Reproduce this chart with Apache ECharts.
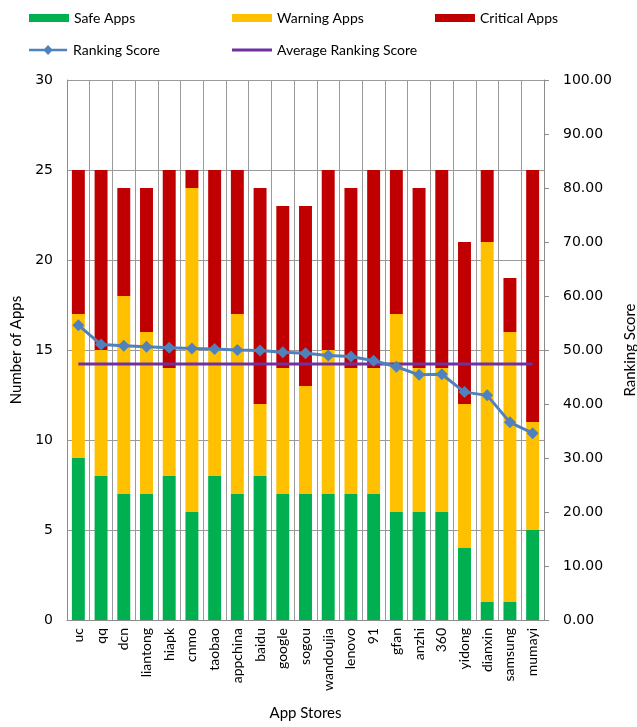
<!DOCTYPE html>
<html>
<head>
<meta charset="utf-8">
<script src="https://cdn.jsdelivr.net/npm/echarts@6/dist/echarts.min.js"></script>
<style>
html,body{margin:0;padding:0;background:#fff;}
#chart{width:637px;height:727px;}
</style>
</head>
<body>
<div id="chart"></div>
<script>
const categories = ['uc','qq','dcn','liantong','hiapk','cnmo','taobao','appchina','baidu','google','sogou','wandoujia','lenovo','91','gfan','anzhi','360','yidong','dianxin','samsung','mumayi'];
const safeApps = [9,8,7,7,8,6,8,7,8,7,7,7,7,7,6,6,6,4,1,1,5];
const warningApps = [8,7,11,9,6,18,7,10,4,7,6,8,7,7,11,8,8,8,20,15,6];
const criticalApps = [8,10,6,8,11,1,10,8,12,9,10,10,10,11,8,10,11,9,4,3,14];
const rankingScore = [54.6,51.0,50.8,50.6,50.4,50.3,50.2,50.0,49.9,49.6,49.4,49.0,48.8,48.0,46.9,45.4,45.5,42.2,41.6,36.6,34.6];
const averageScore = 47.4;
const averageLine = categories.map(() => averageScore);

const FONT = 'Lato';
const AXFONT = 'DejaVu Sans';
const chart = echarts.init(document.getElementById('chart'));
const legendText = {fontFamily: FONT, fontSize: 14, color: '#000'};
chart.setOption({
  animation: false,
  backgroundColor: '#fff',
  legend: [
    {data: ['Safe Apps'], left: 24, top: 6, itemWidth: 40, itemHeight: 8, itemGap: 4, textStyle: legendText, icon: 'rect'},
    {data: ['Warning Apps'], left: 227, top: 6, itemWidth: 40, itemHeight: 8, textStyle: legendText, icon: 'rect'},
    {data: ['Critical Apps'], left: 430, top: 6, itemWidth: 40, itemHeight: 8, textStyle: legendText, icon: 'rect'},
    {data: ['Ranking Score'], left: 24, top: 38, itemWidth: 40, itemHeight: 10, textStyle: legendText,
     icon: 'path://M0,4 L40,4 L40,6.5 L0,6.5 Z M20,0 L25,5.25 L20,10.5 L15,5.25 Z'},
    {data: ['Average Ranking Score'], left: 227, top: 38, itemWidth: 40, itemHeight: 3, textStyle: legendText, icon: 'rect'}
  ],
  grid: {left: 67, right: 93, top: 80, bottom: 107, containLabel: false, outerBoundsMode: 'none'},
  xAxis: {
    type: 'category',
    data: categories,
    boundaryGap: true,
    name: 'App Stores',
    nameLocation: 'middle',
    nameGap: 86,
    nameTextStyle: {fontFamily: FONT, fontSize: 15, color: '#000'},
    axisLine: {show: true, lineStyle: {color: '#8c8c8c', width: 1}},
    axisTick: {show: false},
    axisLabel: {rotate: 90, interval: 0, fontFamily: FONT, fontSize: 14, color: '#000', margin: 8},
    splitLine: {show: true, interval: 0, lineStyle: {color: '#9a9a9a', width: 1}}
  },
  yAxis: [
    {
      type: 'value', min: 0, max: 30, interval: 5,
      name: 'Number of Apps', nameLocation: 'middle', nameGap: 43,
      nameTextStyle: {fontFamily: FONT, fontSize: 15, color: '#000'},
      axisLine: {show: true, lineStyle: {color: '#8c8c8c'}},
      axisTick: {show: false},
      axisLabel: {fontFamily: AXFONT, fontSize: 14, color: '#000', margin: 14},
      splitLine: {show: true, lineStyle: {color: '#9a9a9a', width: 1}}
    },
    {
      type: 'value', min: 0, max: 100, interval: 10, position: 'right',
      name: 'Ranking Score', nameLocation: 'middle', nameGap: 77,
      nameRotate: 90,
      nameTextStyle: {fontFamily: FONT, fontSize: 15, color: '#000'},
      axisLine: {show: true, lineStyle: {color: '#8c8c8c'}},
      axisTick: {show: true, length: 5, lineStyle: {color: '#8c8c8c'}},
      axisLabel: {fontFamily: AXFONT, fontSize: 14, color: '#000', margin: 19, formatter: v => v.toFixed(2)},
      splitLine: {show: false}
    }
  ],
  series: [
    {name: 'Safe Apps', type: 'bar', stack: 'apps', data: safeApps, barWidth: '57%', itemStyle: {color: '#00B050'}},
    {name: 'Warning Apps', type: 'bar', stack: 'apps', data: warningApps, barWidth: '57%', itemStyle: {color: '#FFC000'}},
    {name: 'Critical Apps', type: 'bar', stack: 'apps', data: criticalApps, barWidth: '57%', itemStyle: {color: '#C00000'}},
    {name: 'Ranking Score', type: 'line', yAxisIndex: 1, data: rankingScore, symbol: 'diamond', symbolSize: 12,
     lineStyle: {color: '#4F81BD', width: 3}, itemStyle: {color: '#4F81BD'}, z: 5},
    {name: 'Average Ranking Score', type: 'line', yAxisIndex: 1, data: averageLine, symbol: 'none',
     lineStyle: {color: '#7030A0', width: 3}, itemStyle: {color: '#7030A0'}, z: 4}
  ]
});
</script>
</body>
</html>
